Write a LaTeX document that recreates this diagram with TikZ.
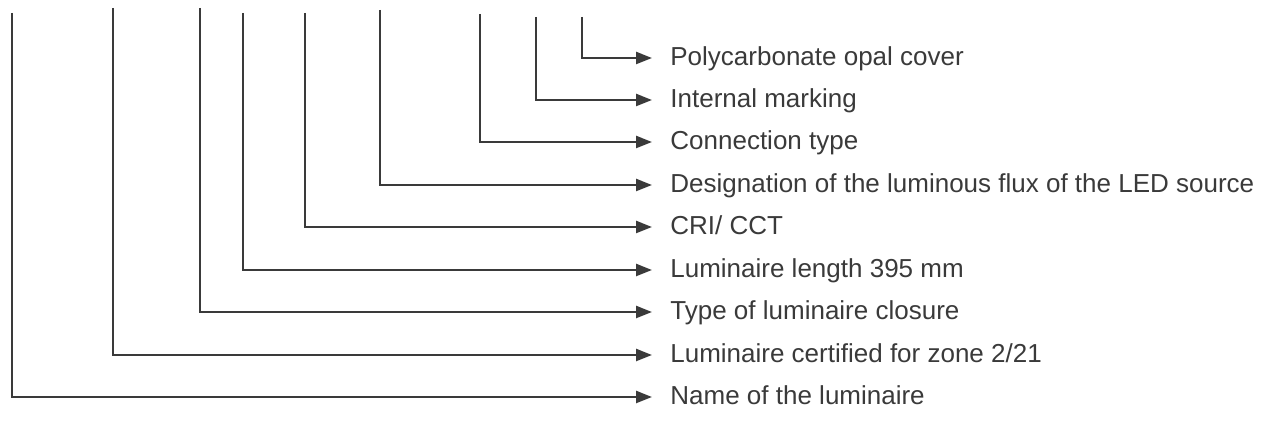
\documentclass[tikz,border=0pt]{standalone}
\usepackage{fontspec}
\setmainfont{Liberation Sans}
\usetikzlibrary{arrows.meta, positioning}

\definecolor{inkgray}{HTML}{3A3A3A}

\begin{document}
\begin{tikzpicture}[x=0.5pt, y=0.5pt,
    every node/.style={font=\fontsize{13}{15}\selectfont, text=inkgray},
    lbl/.style={anchor=west, inner xsep=9pt, inner ysep=0pt, text height=0.72em, text depth=0pt},
    conn/.style={draw=inkgray, line width=1.2pt, -{Triangle[length=8pt, width=6pt]}}]
    \useasboundingbox (0,0) rectangle (1280,-437);

    % Nodes
    \node[lbl] (cover) at (652,-58) {Polycarbonate opal cover};
    \node[lbl] (marking) at (652,-100) {Internal marking};
    \node[lbl] (connection) at (652,-142) {Connection type};
    \node[lbl] (flux) at (652,-185) {Designation of the luminous flux of the LED source};
    \node[lbl] (cri) at (652,-227) {CRI/ CCT};
    \node[lbl] (length) at (652,-270) {Luminaire length 395 mm};
    \node[lbl] (closure) at (652,-312) {Type of luminaire closure};
    \node[lbl] (zone) at (652,-355) {Luminaire certified for zone 2/21};
    \node[lbl] (name) at (652,-397) {Name of the luminaire};

    % Code positions
    \coordinate (c-name) at (12,-13);
    \coordinate (c-zone) at (113,-8);
    \coordinate (c-closure) at (200,-8);
    \coordinate (c-length) at (243,-13);
    \coordinate (c-cri) at (305,-13);
    \coordinate (c-flux) at (380,-10);
    \coordinate (c-connection) at (480,-14);
    \coordinate (c-marking) at (536,-17);
    \coordinate (c-cover) at (582,-17);

    % Arrows
    \draw[conn] (c-cover) |- (cover);
    \draw[conn] (c-marking) |- (marking);
    \draw[conn] (c-connection) |- (connection);
    \draw[conn] (c-flux) |- (flux);
    \draw[conn] (c-cri) |- (cri);
    \draw[conn] (c-length) |- (length);
    \draw[conn] (c-closure) |- (closure);
    \draw[conn] (c-zone) |- (zone);
    \draw[conn] (c-name) |- (name);
\end{tikzpicture}
\end{document}
